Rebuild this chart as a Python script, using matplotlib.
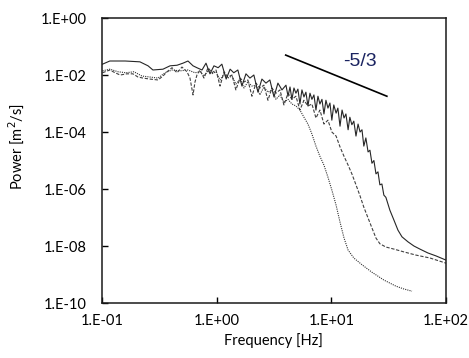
import math

import matplotlib
matplotlib.use("Agg")
import matplotlib.pyplot as plt
from matplotlib.ticker import FixedLocator, FuncFormatter

# spectrum 1 (solid)
freq_a = [0.101, 0.117, 0.159, 0.214, 0.252, 0.278, 0.340, 0.392, 0.451, 0.508,
          0.562, 0.622, 0.673, 0.745, 0.807, 0.874, 0.947, 1.03, 1.11, 1.21,
          1.31, 1.41, 1.53, 1.66, 1.80, 1.95, 2.11, 2.29, 2.48, 2.69,
          2.91, 3.16, 3.42, 3.71, 4.02, 4.19, 4.36, 4.53, 4.72, 4.91,
          5.11, 5.32, 5.54, 5.77, 6.00, 6.25, 6.51, 6.77, 7.05, 7.34,
          7.64, 7.95, 8.28, 8.62, 8.97, 9.34, 9.72, 10.1, 10.5, 11.0,
          11.4, 11.9, 12.4, 12.9, 13.4, 14.0, 14.5, 15.1, 15.7, 16.4,
          17.1, 17.8, 18.5, 19.2, 20.0, 20.9, 21.7, 22.6, 23.5, 24.5,
          25.5, 26.5, 27.6, 28.7, 29.9, 32.4, 35.1, 38.1, 41.3, 46.6,
          52.5, 59.2, 69.5, 81.7, 100]
power_a = [2.4e-2, 3.1e-2, 3.1e-2, 2.9e-2, 2.1e-2, 1.5e-2, 1.6e-2, 2.1e-2, 2.2e-2, 2.6e-2,
           3.1e-2, 2.1e-2, 1.8e-2, 1.5e-2, 2.6e-2, 1.1e-2, 2.1e-2, 1.8e-2, 2.4e-2, 7.2e-3,
           1.6e-2, 1.2e-2, 1.5e-2, 4.1e-3, 1.1e-2, 7.8e-3, 1.0e-2, 2.5e-3, 7.2e-3, 5.2e-3,
           6.7e-3, 1.7e-3, 5.2e-3, 3.0e-3, 4.4e-3, 1.8e-3, 3.8e-3, 1.4e-3, 3.5e-3, 2.3e-3,
           3.2e-3, 9.6e-4, 3.0e-3, 1.7e-3, 2.5e-3, 8.2e-4, 2.3e-3, 1.4e-3, 2.0e-3, 5.9e-4,
           1.8e-3, 9.6e-4, 1.4e-3, 4.3e-4, 1.3e-3, 6.9e-4, 1.04e-3, 2.6e-4, 8.9e-4, 4.6e-4,
           6.9e-4, 1.6e-4, 5.9e-4, 3.1e-4, 4.3e-4, 1.2e-4, 3.3e-4, 1.8e-4, 2.4e-4, 7.2e-5,
           1.9e-4, 1.0e-4, 1.2e-4, 3.2e-5, 6.2e-5, 2.0e-5, 2.3e-5, 8.0e-6, 1.0e-5, 3.4e-6,
           4.0e-6, 1.4e-6, 1.5e-6, 6.1e-7, 5.1e-7, 1.8e-7, 8.2e-8, 3.6e-8, 2.1e-8, 1.4e-8,
           1.0e-8, 7.8e-9, 5.7e-9, 4.5e-9, 3.2e-9]

# spectrum 2 (dashed)
freq_b = [0.101, 0.117, 0.130, 0.144, 0.165, 0.186, 0.206, 0.228, 0.262, 0.308,
          0.340, 0.369, 0.408, 0.451, 0.498, 0.551, 0.585, 0.622, 0.647, 0.673,
          0.715, 0.775, 0.840, 0.910, 0.986, 1.07, 1.16, 1.25, 1.36, 1.47,
          1.60, 1.73, 1.87, 2.03, 2.20, 2.38, 2.58, 2.80, 3.03, 3.29,
          3.56, 3.86, 4.19, 4.53, 4.91, 5.32, 5.77, 6.25, 6.77, 7.34,
          7.95, 8.62, 9.34, 10.1, 11.0, 11.9, 12.9, 14.0, 15.1, 16.4,
          17.8, 19.2, 20.9, 22.6, 24.5, 26.5, 29.9, 35.1, 43.0, 54.7,
          72.4, 100]
power_b = [1.2e-2, 1.5e-2, 1.2e-2, 1.0e-2, 1.1e-2, 1.1e-2, 8.5e-3, 7.8e-3, 7.2e-3, 6.7e-3,
           9.2e-3, 1.3e-2, 1.8e-2, 1.2e-2, 1.9e-2, 1.3e-2, 7.8e-3, 2.0e-3, 5.7e-3, 1.0e-2,
           1.5e-2, 7.8e-3, 1.8e-2, 1.2e-2, 1.5e-2, 4.1e-3, 1.3e-2, 8.5e-3, 1.0e-2, 3.0e-3,
           7.8e-3, 5.7e-3, 6.7e-3, 1.8e-3, 5.2e-3, 3.5e-3, 4.4e-3, 1.3e-3, 3.5e-3, 2.3e-3,
           3.0e-3, 8.9e-4, 2.3e-3, 1.4e-3, 1.8e-3, 5.9e-4, 1.3e-3, 8.2e-4, 9.6e-4, 3.1e-4,
           5.9e-4, 1.9e-4, 2.6e-4, 1.0e-4, 7.2e-5, 3.0e-5, 1.4e-5, 6.9e-6, 3.4e-6, 1.4e-6,
           5.7e-7, 2.3e-7, 9.6e-8, 4.3e-8, 1.9e-8, 1.2e-8, 9.2e-9, 7.8e-9, 6.2e-9, 4.8e-9,
           3.8e-9, 2.5e-9]

# spectrum 3 (dotted)
freq_c = [0.101, 0.117, 0.138, 0.162, 0.190, 0.223, 0.262, 0.308, 0.354, 0.408,
          0.479, 0.562, 0.647, 0.715, 0.775, 0.840, 0.910, 0.986, 1.07, 1.16,
          1.25, 1.36, 1.47, 1.60, 1.73, 1.87, 2.03, 2.20, 2.38, 2.58,
          2.80, 3.03, 3.29, 3.56, 3.86, 4.19, 4.53, 4.91, 5.32, 5.77,
          6.25, 6.77, 7.34, 7.95, 8.62, 9.34, 10.1, 11.0, 11.9, 12.9,
          14.0, 15.7, 18.5, 22.6, 28.7, 36.6, 43.0, 50.5]
power_c = [1.4e-2, 1.6e-2, 1.3e-2, 1.2e-2, 1.3e-2, 9.2e-3, 8.5e-3, 7.8e-3, 1.2e-2, 1.5e-2,
           1.4e-2, 1.5e-2, 1.2e-2, 1.3e-2, 9.2e-3, 1.4e-2, 1.1e-2, 1.3e-2, 6.7e-3, 1.1e-2,
           7.8e-3, 9.2e-3, 4.8e-3, 7.2e-3, 3.5e-3, 5.7e-3, 4.1e-3, 4.4e-3, 2.0e-3, 3.8e-3,
           2.5e-3, 3.0e-3, 1.4e-3, 2.0e-3, 1.1e-3, 1.4e-3, 9.6e-4, 8.2e-4, 5.9e-4, 3.3e-4,
           1.9e-4, 8.5e-5, 3.2e-5, 1.4e-5, 6.9e-6, 2.6e-6, 9.2e-7, 2.7e-7, 6.9e-8, 1.9e-8,
           7.2e-9, 3.8e-9, 2.2e-9, 1.2e-9, 6.4e-10, 3.9e-10, 3.1e-10, 2.6e-10]

# -5/3 reference slope
slope_freq = [4.0, 30.5]
slope_power = [5.0e-2, 1.8e-3]
slope_label = "-5/3"

x_ticks = [0.1, 1, 10, 100]
y_ticks = [1e-10, 1e-8, 1e-6, 1e-4, 1e-2, 1]


def excel_sci(v, pos):
    # Excel style "1.E+01"
    exp = int(round(math.log10(v)))
    return "1.E{}{:02d}".format("+" if exp >= 0 else "-", abs(exp))


plt.rcParams['font.family'] = ['Lato', 'DejaVu Sans']

fig = plt.figure(figsize=(4.69, 3.58), dpi=100)
ax = fig.add_axes([0.2175, 0.1536, 0.7335, 0.7961])

ax.loglog(freq_c, power_c, color='0.2', lw=0.8, linestyle=(0, (1, 1)))
ax.loglog(freq_b, power_b, color='0.25', lw=0.8, linestyle=(0, (3, 1.5)))
ax.loglog(freq_a, power_a, color='0.15', lw=0.8)
ax.loglog(slope_freq, slope_power, color='black', lw=1.2)
ax.text(17.8, 3.1e-2, slope_label, color='#1b2461', fontsize=14,
        family='Liberation Sans', ha='center', va='center')

ax.set_xlim(0.1, 100)
ax.set_ylim(1e-10, 1)
ax.xaxis.set_major_locator(FixedLocator(x_ticks))
ax.yaxis.set_major_locator(FixedLocator(y_ticks))
ax.xaxis.set_minor_locator(FixedLocator([]))
ax.yaxis.set_minor_locator(FixedLocator([]))
ax.xaxis.set_major_formatter(FuncFormatter(excel_sci))
ax.yaxis.set_major_formatter(FuncFormatter(excel_sci))
ax.tick_params(axis='both', direction='in', length=4, width=1,
               labelsize=10.5, colors='black')
ax.tick_params(axis='y', pad=11)
ax.tick_params(axis='x', pad=8)
for s in ax.spines.values():
    s.set_linewidth(1.1)
    s.set_color('0.1')

ax.set_xlabel("Frequency [Hz]", fontsize=10.5)
ax.set_ylabel("Power [m$^2$/s]", fontsize=10.5)
ax.xaxis.set_label_coords(0.497, -0.105)
ax.yaxis.set_label_coords(-0.222, 0.55)

fig.savefig("out.png", dpi=100)
